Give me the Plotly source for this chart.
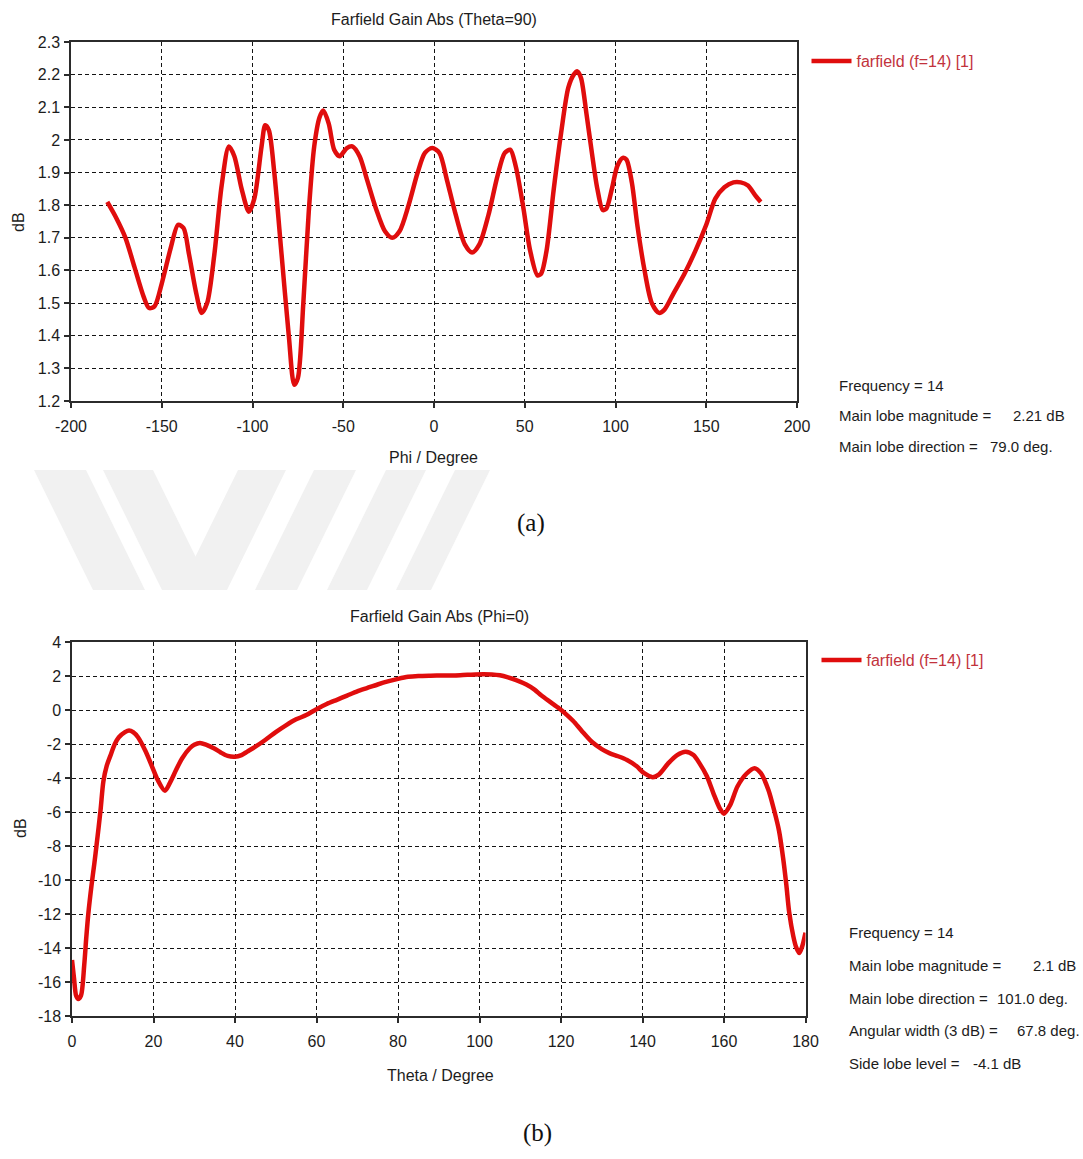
import plotly.graph_objects as go

W, H = 1083, 1159


def px(x):
    return x / W


def py(y):
    return 1 - y / H


# ---- Farfield gain, Theta = 90 cut (phi sweep) ----
phi_deg = [-180, -175, -170, -165, -160, -157, -154, -150, -145, -141, -138, -135,
           -131, -128, -125, -121, -117, -113, -110, -106, -102, -99, -95, -93, -91,
           -88, -84, -80, -77, -75, -72, -69, -66, -63, -61, -58, -55, -52, -48, -45,
           -41, -37, -32, -27, -23, -19, -14, -9, -5, -1, 3, 7, 12, 17, 21, 25, 30,
           35, 39, 42, 45, 49, 53, 57, 59, 62, 66, 70, 74, 77, 79, 81, 84, 87, 90,
           93, 95, 98, 101, 104, 106, 109, 112, 116, 120, 124, 127, 132, 138, 144,
           150, 155, 160, 165, 169, 173, 177, 180]
gain_theta90 = [1.81, 1.76, 1.70, 1.61, 1.52, 1.485, 1.49, 1.56, 1.67, 1.74, 1.73, 1.65,
                1.53, 1.47, 1.50, 1.65, 1.86, 1.98, 1.95, 1.85, 1.78, 1.82, 1.98, 2.045, 2.03,
                1.90, 1.65, 1.40, 1.25, 1.27, 1.50, 1.78, 1.98, 2.07, 2.09, 2.05, 1.97, 1.95,
                1.975, 1.98, 1.95, 1.88, 1.79, 1.72, 1.70, 1.72, 1.80, 1.90, 1.96, 1.975,
                1.96, 1.88, 1.77, 1.68, 1.655, 1.68, 1.77, 1.89, 1.96, 1.97, 1.92, 1.80,
                1.66, 1.585, 1.59, 1.66, 1.85, 2.02, 2.16, 2.20, 2.21, 2.19, 2.08, 1.96,
                1.85, 1.785, 1.79, 1.85, 1.92, 1.945, 1.94, 1.87, 1.74, 1.60, 1.50, 1.47,
                1.48, 1.53, 1.59, 1.66, 1.74, 1.82, 1.855, 1.87, 1.87, 1.86, 1.83, 1.81]

# ---- Farfield gain, Phi = 0 cut (theta sweep) ----
theta_deg = [0, 0.5, 1, 1.5, 2.2, 3, 3.5, 4, 4.8, 5.5, 6, 7, 7.7, 8.5, 9.4, 10.5, 11.5,
             13, 14, 15, 16.2, 18, 19.6, 21, 22.8, 24, 25.5, 27, 28.9, 30, 31.4, 33,
             34.8, 36.5, 38.2, 40, 41.6, 43, 45, 47.5, 50, 52.5, 55, 57.5, 60, 62.5, 65,
             67.5, 70, 72.5, 75, 77.5, 80, 82.5, 85, 88, 91, 94, 97, 99, 101, 103, 105,
             107, 109, 111.5, 113.5, 115.2, 117.5, 119.5, 121, 123, 125, 127.7, 130, 132,
             134, 136.2, 138.5, 140.4, 142.5, 144, 146.3, 148.5, 150.6, 152.5, 154, 155.8,
             157.4, 159, 160, 161.5, 163.3, 165.5, 167.5, 169, 170.9, 172.3, 173.5, 174.5,
             175.3, 176, 177, 177.7, 178.5, 179.2, 180]
gain_phi0 = [-14.7, -15.8, -16.8, -17.0, -16.8, -15.0, -13.4, -12.0, -10.3, -9.0, -8.0,
             -5.9, -4.2, -3.3, -2.7, -2.0, -1.6, -1.3, -1.2, -1.3, -1.6, -2.4, -3.3, -4.1,
             -4.75, -4.3, -3.55, -2.85, -2.25, -2.05, -1.94, -2.05, -2.25, -2.5, -2.7,
             -2.75, -2.65, -2.45, -2.16, -1.75, -1.3, -0.9, -0.55, -0.3, 0.05, 0.35, 0.6,
             0.85, 1.1, 1.3, 1.5, 1.68, 1.83, 1.95, 2.0, 2.02, 2.03, 2.03, 2.07, 2.09,
             2.10, 2.09, 2.04, 1.92, 1.76, 1.5, 1.2, 0.85, 0.45, 0.1, -0.2, -0.65, -1.2,
             -1.9, -2.3, -2.55, -2.72, -2.94, -3.3, -3.72, -3.95, -3.8, -3.14, -2.65,
             -2.45, -2.65, -3.14, -3.9, -4.9, -5.8, -6.1, -5.6, -4.5, -3.75, -3.42, -3.7,
             -4.7, -5.9, -7.1, -8.7, -10.3, -11.9, -13.3, -13.95, -14.3, -13.9, -13.1]

# ---- tick values and their printed labels ----
phi_ticks = [-200, -150, -100, -50, 0, 50, 100, 150, 200]
phi_tick_text = ["-200", "-150", "-100", "-50", "0", "50", "100", "150", "200"]
gain90_ticks = [1.2, 1.3, 1.4, 1.5, 1.6, 1.7, 1.8, 1.9, 2.0, 2.1, 2.2, 2.3]
gain90_tick_text = ["1.2", "1.3", "1.4", "1.5", "1.6", "1.7", "1.8", "1.9", "2",
                    "2.1", "2.2", "2.3"]
theta_ticks = [0, 20, 40, 60, 80, 100, 120, 140, 160, 180]
theta_tick_text = ["0", "20", "40", "60", "80", "100", "120", "140", "160", "180"]
gain0_ticks = [-18, -16, -14, -12, -10, -8, -6, -4, -2, 0, 2, 4]
gain0_tick_text = ["-18", "-16", "-14", "-12", "-10", "-8", "-6", "-4", "-2", "0",
                   "2", "4"]

series_name = "farfield (f=14) [1]"

summary_top_labels = ["Frequency = 14", "Main lobe magnitude =", "Main lobe direction ="]
summary_top_values = [None, "2.21 dB", "79.0 deg."]
summary_bottom_labels = ["Frequency = 14", "Main lobe magnitude =", "Main lobe direction =",
                         "Angular width (3 dB) =", "Side lobe level ="]
summary_bottom_values = [None, "2.1 dB", "101.0 deg.", "67.8 deg.", "-4.1 dB"]

FONT = "Liberation Sans, Arial, sans-serif"
FS = 16
FS_NOTE = 15
SERIF = "Liberation Serif, Times New Roman, serif"
CURVE = "#e00d0d"
LEGEND_TXT = "#c2323c"
INK = "#1c1c1c"

fig = go.Figure()
fig.add_trace(go.Scatter(x=phi_deg, y=gain_theta90, mode="lines", name=series_name,
                         line=dict(color=CURVE, width=4.5, shape="spline", smoothing=0.8),
                         xaxis="x", yaxis="y", legend="legend"))
fig.add_trace(go.Scatter(x=theta_deg, y=gain_phi0, mode="lines", name=series_name,
                         line=dict(color=CURVE, width=4.5, shape="spline", smoothing=0.8),
                         xaxis="x2", yaxis="y2", legend="legend2"))

axis_common = dict(showline=True, mirror=True, linecolor="#2b2b2b", linewidth=1.5,
                   ticks="outside", ticklen=5, tickcolor="#2b2b2b", tickwidth=1.5,
                   showgrid=True, gridcolor="#141414", gridwidth=1, griddash="4px,3px",
                   zeroline=False, automargin=False, tickmode="array",
                   tickfont=dict(family=FONT, size=FS, color=INK), fixedrange=True)

fig.update_layout(
    template="none",
    width=W, height=H, margin=dict(l=0, r=0, t=0, b=0, pad=0),
    paper_bgcolor="white", plot_bgcolor="white",
    xaxis=dict(domain=[px(71), px(797)], range=[-200, 200], tickvals=phi_ticks,
               ticktext=phi_tick_text, anchor="y", ticklabelstandoff=5, **axis_common),
    yaxis=dict(domain=[py(401), py(42)], range=[1.2, 2.3], tickvals=gain90_ticks,
               ticktext=gain90_tick_text, anchor="x", ticklabelstandoff=1, **axis_common),
    xaxis2=dict(domain=[px(72), px(805.5)], range=[0, 180], tickvals=theta_ticks,
                ticktext=theta_tick_text, anchor="y2", ticklabelstandoff=5, **axis_common),
    yaxis2=dict(domain=[py(1016), py(642)], range=[-18, 4], tickvals=gain0_ticks,
                ticktext=gain0_tick_text, anchor="x2", ticklabelstandoff=1, **axis_common),
    legend=dict(x=px(806.5), y=py(44), xanchor="left", yanchor="top",
                font=dict(family=FONT, size=FS, color=LEGEND_TXT),
                bgcolor="rgba(0,0,0,0)", borderwidth=0, itemwidth=40),
    legend2=dict(x=px(816.5), y=py(643), xanchor="left", yanchor="top",
                 font=dict(family=FONT, size=FS, color=LEGEND_TXT),
                 bgcolor="rgba(0,0,0,0)", borderwidth=0, itemwidth=40),
    showlegend=True,
)

annotations = []


def text(x, y, s, xanchor="center", size=FS, family=FONT, color=INK, angle=0):
    annotations.append(dict(x=px(x), y=py(y), xref="paper", yref="paper", text=s,
                            showarrow=False, xanchor=xanchor, yanchor="middle",
                            textangle=angle, font=dict(family=family, size=size, color=color)))


# chart titles and axis titles
text(433.5, 20, "Farfield Gain Abs (Theta=90)")
text(433.5, 457, "Phi / Degree")
text(19, 222, "dB", angle=-90)
text(439.5, 616, "Farfield Gain Abs (Phi=0)")
text(440.5, 1075, "Theta / Degree")
text(20, 828, "dB", angle=-90)

# result summaries: label column plus value column (values start at their own x)
top_value_x = [None, 1011, 988]
for i, (label, value) in enumerate(zip(summary_top_labels, summary_top_values)):
    yy = 385 + i * 30.5
    text(837, yy, label, xanchor="left", size=FS_NOTE)
    if value:
        text(top_value_x[i], yy, value, xanchor="left", size=FS_NOTE)
bottom_value_x = [None, 1031, 995, 1015, 971]
for i, (label, value) in enumerate(zip(summary_bottom_labels, summary_bottom_values)):
    yy = 933 + i * 32.5
    text(847, yy, label, xanchor="left", size=FS_NOTE)
    if value:
        text(bottom_value_x[i], yy, value, xanchor="left", size=FS_NOTE)

# sub-figure captions
text(531, 523, "(a)", size=25, family=SERIF, color="#111")
text(537, 1133, "(b)", size=25, family=SERIF, color="#111")

fig.update_layout(annotations=annotations)

# light background stripes of the page watermark
stripes = [
    [(34, 470), (86, 470), (145, 590), (93, 590)],
    [(103, 470), (153, 470), (212, 590), (162, 590)],
    [(238, 470), (286, 470), (227, 590), (179, 590)],
    [(314, 470), (356, 470), (297, 590), (255, 590)],
    [(386, 470), (426, 470), (367, 590), (327, 590)],
    [(455, 470), (490, 470), (431, 590), (396, 590)],
]
shapes = []
for poly in stripes:
    path = "M " + " L ".join(f"{px(x):.5f},{py(y):.5f}" for x, y in poly) + " Z"
    shapes.append(dict(type="path", path=path, xref="paper", yref="paper",
                       fillcolor="#f1f1f1", line=dict(width=0), layer="below"))
fig.update_layout(shapes=shapes)

fig.write_html("out.html")
